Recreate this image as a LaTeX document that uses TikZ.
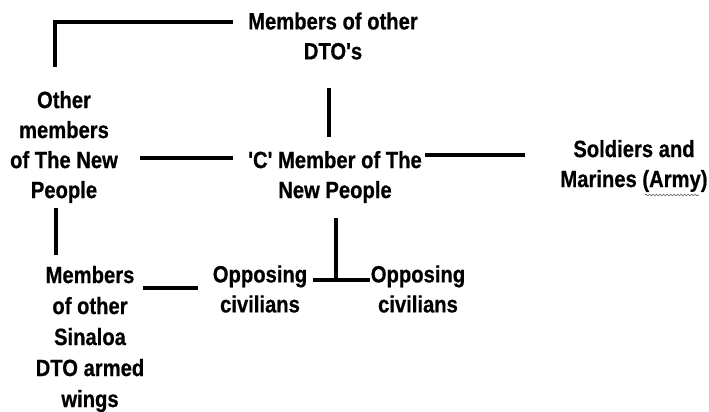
\documentclass[tikz,border=0pt]{standalone}
\usepackage{fontspec}
\setmainfont{Liberation Sans}[FakeStretch=0.86,Ligatures=TeXOff,BoldFeatures={FakeBold=0.6}]
\usetikzlibrary{decorations.pathmorphing}
\begin{document}
\begin{tikzpicture}[x=1pt,y=1pt,
  lbl/.style={align=center,inner sep=0pt,font=\bfseries\fontsize{23.5}{30}\selectfont},
  link/.style={line width=3.2pt,black},
  squiggle/.style={decorate,decoration={snake,amplitude=0.9pt,segment length=3.5pt},gray!70!black,line width=0.6pt}]
\useasboundingbox (0,0) rectangle (709,412);
\node[lbl] (dto) at (333,376) {Members of other\\DTO's};
\node[lbl] (other) at (64,265) {Other\\members\\of The New\\People};
\node[lbl] (cm) at (335,235) {'C' Member of The\\New People};
\node[lbl] (sold) at (634,246) {Soldiers and\\Marines (Army)};
\node[lbl,font=\bfseries\fontsize{23.5}{31}\selectfont] (sin) at (90,73) {Members\\of other\\Sinaloa\\DTO armed\\wings};
\node[lbl] (opp1) at (260,123) {Opposing\\civilians};
\node[lbl] (opp2) at (418,123) {Opposing\\civilians};
% connector end points
\coordinate (dtoL) at (233,390);
\coordinate (otherT) at (55,345);
\coordinate (dtoB) at (329,324);
\coordinate (cmT) at (329,275);
\coordinate (otherR) at (140,254);
\coordinate (cmL) at (233,254);
\coordinate (cmR) at (425,257);
\coordinate (soldL) at (525,257);
\coordinate (otherB) at (56,204);
\coordinate (sinT) at (56,157);
\coordinate (sinR) at (143,124);
\coordinate (opp1L) at (198,124);
\coordinate (cmB) at (336,194);
\coordinate (oppJ) at (336,132);
\coordinate (opp1R) at (313,132);
\coordinate (opp2L) at (370,132);
\draw[link] (dtoL) -| (otherT);
\draw[link] (dtoB) -- (cmT);
\draw[link] (otherR) -- (cmL);
\draw[link] (cmR) -- (soldL);
\draw[link] (otherB) -- (sinT);
\draw[link] (sinR) -- (opp1L);
\draw[link] (opp1R) -- (opp2L);
\draw[link] (cmB) -- (oppJ);
\draw[squiggle] (645,217) -- (699,217);
\end{tikzpicture}
\end{document}
